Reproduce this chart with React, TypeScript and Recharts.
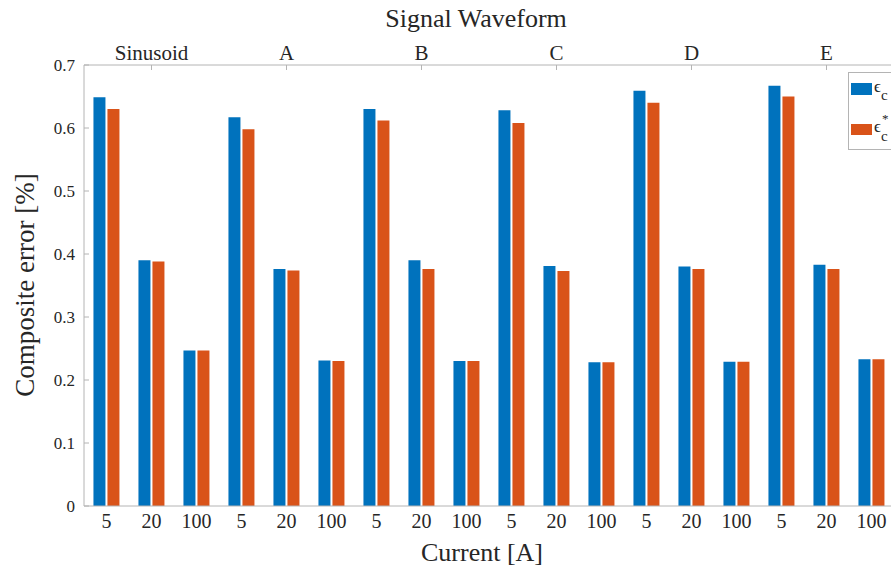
import React from "react";
import { BarChart, Bar, XAxis, YAxis, Legend } from "recharts";

const groups = ["Sinusoid", "A", "B", "C", "D", "E"];
const currents = ["5", "20", "100"];
const ecValues = [
  0.649, 0.39, 0.247,
  0.617, 0.376, 0.231,
  0.63, 0.39, 0.23,
  0.628, 0.381, 0.228,
  0.659, 0.38, 0.229,
  0.667, 0.383, 0.233,
];
const ecStarValues = [
  0.63, 0.388, 0.247,
  0.598, 0.374, 0.23,
  0.612, 0.376, 0.23,
  0.608, 0.373, 0.228,
  0.64, 0.376, 0.229,
  0.65, 0.376, 0.233,
];
const yTicks = [0, 0.1, 0.2, 0.3, 0.4, 0.5, 0.6, 0.7];

const BLUE = "#0072BD";
const ORANGE = "#D95319";
const AXIS = "#b4b4b4";
const TEXT = "#262626";
const FONT = '"Liberation Serif", "Times New Roman", serif';

// one row per (waveform, current) pair
const data = groups.flatMap((g, gi) =>
  currents.map((c, ci) => ({
    key: `${g}-${c}`,
    group: g,
    current: c,
    ec: ecValues[gi * 3 + ci],
    ecStar: ecStarValues[gi * 3 + ci],
  }))
);

const TopTick = (props: any) => {
  const { x, y, index, payload } = props;
  if (index % 3 !== 1) return <g />;
  return (
    <g>
      <line x1={x} x2={x} y1={y + 5} y2={y + 10} stroke={AXIS} />
      <text x={x} y={y} textAnchor="middle" fontSize={21} fill={TEXT}>
        {String(payload.value).split("-")[0]}
      </text>
    </g>
  );
};

const LeftTick = (props: any) => {
  const { x, y, payload } = props;
  return (
    <g>
      <line x1={x + 9} x2={x + 14} y1={y} y2={y} stroke={AXIS} />
      <text x={x} y={y} textAnchor="end" dominantBaseline="central" fontSize={17} fill={TEXT}>
        {payload.value === 0 ? "0" : payload.value.toFixed(1)}
      </text>
    </g>
  );
};

const LegendBox = () => (
  <div
    style={{
      position: "relative",
      width: 60,
      height: 76,
      border: `1px solid ${AXIS}`,
      background: "#fff",
      fontFamily: FONT,
      color: TEXT,
    }}
  >
    <div style={{ position: "absolute", left: 2, top: 10, width: 21, height: 12, background: BLUE }} />
    <span style={{ position: "absolute", left: 25, top: 4, fontSize: 17 }}>ϵ</span>
    <span style={{ position: "absolute", left: 32, top: 14, fontSize: 15 }}>c</span>
    <div style={{ position: "absolute", left: 2, top: 51, width: 21, height: 11, background: ORANGE }} />
    <span style={{ position: "absolute", left: 33, top: 38, fontSize: 13 }}>*</span>
    <span style={{ position: "absolute", left: 25, top: 44, fontSize: 17 }}>ϵ</span>
    <span style={{ position: "absolute", left: 32, top: 55, fontSize: 15 }}>c</span>
  </div>
);

export default function App() {
  return (
    <div
      style={{
        position: "absolute",
        left: 0,
        top: 0,
        width: 891,
        height: 570,
        overflow: "hidden",
        background: "#fff",
        fontFamily: FONT,
        color: TEXT,
      }}
    >
      <div style={{ position: "absolute", left: 0, width: 952, top: 4, textAlign: "center", fontSize: 26, lineHeight: "30px" }}>
        Signal Waveform
      </div>
      <div style={{ position: "absolute", left: 0, width: 964, top: 538, textAlign: "center", fontSize: 26, lineHeight: "30px" }}>
        Current [A]
      </div>
      <div
        style={{
          position: "absolute",
          left: 25,
          top: 285,
          transform: "translate(-50%, -50%) rotate(-90deg)",
          whiteSpace: "nowrap",
          fontSize: 27,
          lineHeight: "30px",
        }}
      >
        Composite error [%]
      </div>
      <BarChart
        width={900}
        height={570}
        data={data}
        margin={{ top: 35, right: 6, bottom: 34, left: 0 }}
        barCategoryGap="21%"
        barGap={2}
      >
        <XAxis
          dataKey="key"
          height={30}
          interval={0}
          tickFormatter={(v: string) => v.split("-")[1]}
          tickSize={0}
          tickMargin={8}
          tick={{ fontSize: 20, fill: TEXT }}
          axisLine={{ stroke: AXIS }}
        />
        <XAxis
          xAxisId="top"
          orientation="top"
          dataKey="key"
          height={30}
          interval={0}
          tickSize={0}
          tickMargin={5}
          tick={<TopTick />}
          axisLine={{ stroke: AXIS }}
        />
        <YAxis
          width={84}
          domain={[0, 0.7]}
          ticks={yTicks}
          tickSize={0}
          tickMargin={9}
          tick={<LeftTick />}
          axisLine={{ stroke: AXIS }}
        />
        <Legend
          layout="vertical"
          align="center"
          verticalAlign="middle"
          content={<LegendBox />}
          wrapperStyle={{ left: 848, top: 72, width: 62 }}
        />
        <Bar dataKey="ec" name="ϵc" fill={BLUE} isAnimationActive={false} />
        <Bar dataKey="ecStar" name="ϵc*" fill={ORANGE} isAnimationActive={false} />
      </BarChart>
    </div>
  );
}
